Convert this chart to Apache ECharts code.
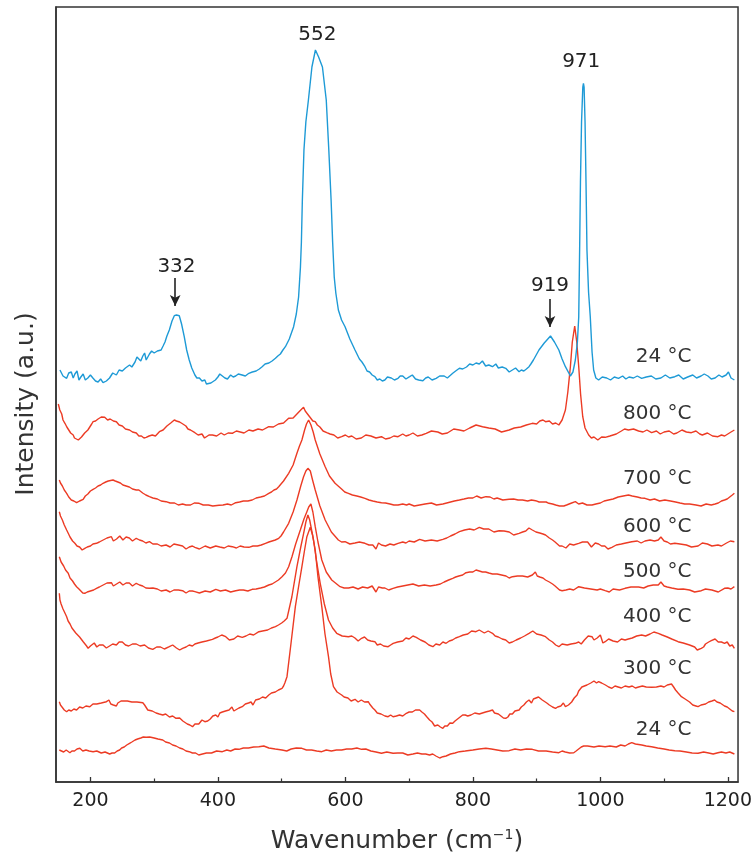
<!DOCTYPE html>
<html>
<head>
<meta charset="utf-8">
<script src="https://cdn.jsdelivr.net/npm/echarts@6/dist/echarts.min.js"></script>
<style>
  html, body { margin: 0; padding: 0; background: #fff; overflow: hidden; }
  #chart { width: 755px; height: 862px; display: block; }
</style>
</head>
<body>
<div id="chart"></div>
<script>
// Raman spectra, [wavenumber, intensity (a.u., stacked offset)]
const blue24 = [[152.2,412],[157,406],[162.7,403.7],[166,409],[170,410],[173,404],[175.6,408],[179,411],[182,402],[185,405],[188.6,408],[192,402],[196,404],[200,407],[204.2,403.7],[208,401],[212,400],[216,403],[219.8,399.3],[225,401],[230,404],[235,409],[240.7,407],[245,412],[250,411],[255,414],[261.4,417],[265,415],[270,420],[273,425],[276,424],[279,421],[282.2,426],[285,429],[287.5,422],[290,424],[292.6,428],[296,431],[300,429],[305,431],[310.9,432],[314,436],[317,440],[320,446],[323.8,452],[328,461],[331.6,466.3],[335,467],[339.4,466.3],[343,458],[347.2,445.3],[351,432],[355,422],[359,414],[363.9,407],[367,404],[371,404],[375,401],[379.5,402],[382,398],[385,400],[389,399],[392,399.3],[396,402],[400,405],[403,408],[407,406],[411,404],[415,403],[420,407],[424,405],[427.9,406],[432,408],[438,407],[443,406],[448.6,408.7],[454,410],[460,411],[465,413],[469.4,415.3],[474,418],[480,419],[485,421],[490.3,423.7],[494,426],[498,428],[502,432],[505.9,435.3],[512,443],[518.8,455.3],[523,468],[526.6,485],[529.5,515],[531,540],[532.5,582],[535,632],[538,660],[542,682],[547.5,715],[553,732],[558,725],[564,715],[570,682],[574,632],[577.6,582],[580,540],[582.5,505],[585,489],[589,472],[594,462],[599.5,455.3],[607,443],[615.1,432],[622,423],[626,420],[630.7,415.3],[634,411],[638,410],[642,407],[646.3,405.3],[650,402],[654,403],[658,401],[661.9,402],[666,405],[672,404],[677,402],[682.6,403.7],[686,406],[690,406],[695,403],[700.8,405.3],[705,407],[710,403],[715,402],[721.6,401.3],[726,404],[730,405],[736,402],[742.4,403.7],[748,406],[755,406],[760,404],[768.4,408.7],[773,411],[778.9,413.7],[784,413],[790,415],[795,418],[800,417],[805,419],[810.1,418],[815,421],[820,416],[825,417],[830.8,415.3],[836,418],[840,414],[846,415],[851.6,413.7],[857,410],[862,412],[867,414],[872.5,410.3],[876,412],[880,411],[884,413],[888.1,415.3],[891,418],[895,422],[903.7,432],[912,439],[921.8,446],[928,440],[934.9,432],[940,423],[945.2,415.3],[953,406],[957,410],[960.8,422],[964,440],[966.1,465],[967.5,532],[968.8,600],[970.5,660],[972.5,695],[973.5,698.7],[974.5,695],[976,660],[977.5,600],[979,532],[981.5,490],[984.2,465.3],[987,430],[989.5,412],[993,404],[997.3,402],[1003,405],[1010,404],[1016,402],[1022,405],[1028.5,403.7],[1035,406],[1040,403],[1045,405],[1052,404],[1058,406],[1064.8,403.7],[1072,405],[1080,406],[1087,403],[1095,404],[1102,407],[1109,404],[1116.8,405.3],[1123,407],[1130,403],[1137,405],[1145,407],[1151,404],[1158,406],[1163,408],[1168.8,406],[1174,403],[1180,404],[1186,407],[1191,405],[1197.3,407],[1201,410],[1205,404],[1210.3,402]];

const red800 = [[149.6,378],[152,372],[155,368],[157,362],[160,358.7],[163,355],[166,352],[169,349],[173,347],[175,344],[178,345],[181,342],[183.4,343.7],[186,345],[188,346],[191,349],[193.9,348.7],[196,352],[199,355],[202,358],[204.2,360.3],[208,361],[212,363],[217,365],[222.4,364.7],[227,362],[231,363],[236,361],[240.7,360.3],[245,357],[250,356],[255,353],[261.4,352],[266,350],[272,349],[276,346],[280,346],[284,344],[287.5,344.7],[292,346],[297,347],[302,346],[308.2,350.3],[314,352],[320,356],[326,359],[331.6,362],[335,361],[340,360],[345,358],[349.8,356],[353,353],[357,352],[360,350],[363.9,349.3],[369,347],[375,348],[379,344],[382,345],[386,347],[391.4,347],[398,346],[405,349],[410,347],[416,349],[422.6,348.7],[429,351],[435,350],[441,349],[448.6,352],[455,351],[463,353],[470,352],[479.8,355.3],[487,355],[495,358],[503,359],[511,363.7],[518,364],[524,368],[530,372],[534.4,374.7],[537,371],[540,369],[543,366],[546,364],[549,361],[552.7,360.3],[556,357],[560,355],[565,351],[570.8,349.3],[576,348],[582,347],[588,344],[594.2,345.3],[600,347],[605,345],[610,346],[617,343],[625,344],[632,347],[640,346],[648,344],[656.6,345.3],[663,343],[670,344],[676,346],[682.6,345.3],[690,348],[695,346],[700,347],[706,349],[713,346],[720,347],[726.8,348.7],[735,351],[745,350],[752,348],[760,349],[770,353],[778.9,352],[786,351],[795,354],[805,357],[815.2,355.3],[825,354],[835,353],[845,350],[856.9,352],[865,354],[875,355],[884,357],[893.3,358.7],[900,358],[905,361],[910,362],[914,360.3],[920,361],[925,358],[930,359],[934.9,357],[937,359],[940,362],[945.2,372],[949,390],[953,415.3],[956,440],[959.8,456],[963,440],[966.1,415.3],[969,388],[972.4,365.3],[976,354],[981.7,347],[986,344],[990,345],[996,342],[1002,345],[1007.6,344.7],[1015,346],[1025,348],[1033,351],[1038,353],[1044.1,352],[1052,353],[1060,351],[1067,350],[1073,352],[1080.4,349.3],[1088,351],[1094,348],[1100,350],[1108,351],[1115,348],[1120,349],[1128,352],[1135,350],[1142.8,349.3],[1150,351],[1156,348],[1160,347],[1168,349],[1176,346],[1184.5,345.3],[1190,347],[1195,346],[1200,348],[1205,350],[1210.3,352]];

const red700 = [[151.2,302],[153,299],[156,296],[159,292],[162.7,288.7],[166,285],[170,282],[174,281],[178.3,279.3],[181,281],[183,281],[186,282],[188.6,282.7],[192,286],[196,288],[200,291],[204.2,292.7],[208,294],[212,296],[216,297],[219.8,298.7],[224,300],[228,301],[231,302],[235.4,302],[239,301],[243,300],[247,299],[251,297],[256,296],[261,295],[266,293],[271.9,292],[276,292],[282,289],[287,287],[292.6,285.3],[298,284],[305,283],[311,281],[318.7,280.3],[325,279],[332,279],[338,277],[344.6,278],[350,277],[357,277],[363,279],[370.6,278.7],[377,277],[385,277],[392,276],[401.8,276.7],[408,277],[415,278],[421,277],[427.9,279.3],[434,280],[440,281],[447,281],[453.8,282],[460,284],[467,285],[473,286],[479.8,288.7],[484,290],[488,292],[492,293],[495.4,295.3],[499,298],[503,301],[511,308.7],[518,317],[524,328.7],[528,336],[531.8,342],[536,352],[539,358],[542.3,362],[546,357],[549.5,350],[552.7,342],[560,328],[568.3,315.3],[575,306],[583.8,298.7],[594,293],[599,290],[604.7,288.7],[611,287],[618,286],[624,285],[630.7,283.7],[637,282],[643,281],[650,280],[656.6,279.3],[663,279],[670,278],[676,277],[682.6,277],[690,278],[696,277],[700,278],[708,276],[716.5,277],[725,278],[735,279],[743,277],[752.9,278],[759,279],[765,280],[771,281],[778.9,282],[786,283],[793,284],[800,284],[806,286],[813,284],[820.4,285.3],[827,285],[833,283],[838,284],[847,282],[856.9,282.7],[864,283],[871,282],[878,282],[886,281],[892,282],[898.4,281.3],[904,280],[910,280],[915,280],[919.3,278.7],[925,278],[930,277],[936,276],[942.7,276],[947,277],[950,278],[955,279],[960.8,280.3],[966,278],[972,279],[979,277],[986.9,277],[993,278],[1000,279],[1006,281],[1012.9,282],[1020,283],[1028,285],[1036,286],[1044.1,287],[1050,286],[1058,285],[1064,284],[1070,283.7],[1078,282],[1085,283],[1093,281],[1101.2,282],[1110,281],[1118,280],[1125,279],[1132.4,278],[1140,278],[1150,277],[1158,276],[1166,278],[1174,277],[1180,278],[1185,279],[1190,281],[1194.8,282],[1199,283],[1203,285],[1207,287],[1210.3,288.7]];

const red600 = [[151.2,270.3],[153,266],[156,262],[159,257],[162.7,252],[165,249],[168,245],[172,241],[175.6,238.7],[179,236],[183,235],[187,232],[191.2,233.7],[195,235],[200,236],[204,238],[209.5,238.7],[214,240],[220,242],[226,244],[232.9,245.3],[236,241],[241,243],[246,246],[251,242],[256,245],[261,244],[266,241],[271.9,243.7],[277,242],[282,241],[287,239],[292.6,240.3],[298,238],[305,238],[311,236],[318.7,237],[325,235],[331,238],[338,237],[344.6,236],[350,233],[355,235],[360,236],[363.9,234.7],[371,233],[380,236],[388,234],[396.7,236],[403,235],[410,234],[416,236],[422.6,235.3],[429,234],[435,236],[441,235],[448.6,234.7],[455,236],[462,236],[468,237],[474.7,238.7],[480,240],[485,241],[490,242],[495.4,243.7],[499,246],[503,250],[511,258.7],[518,270],[524,282],[530,296],[534.4,305.3],[538,311],[541.2,313.7],[545,311],[548.5,302],[552.7,292],[560,276],[568.3,262],[578,250],[589,242],[594,240],[599.5,240.3],[607,238],[615,239],[622,240],[630.7,238.7],[637,237],[643,237],[648,233],[652,239],[656.6,237],[663,236],[670,238],[676,237],[682.6,238.7],[690,240],[695,239],[700,241],[708,240],[716.5,242.7],[725,241],[735,242],[744,241],[752.9,242.7],[759,244],[765,246],[772,248],[778.9,250.3],[787,252],[795,253],[802,252],[810.1,254.7],[817,253],[825,253],[833,250],[841.3,251.3],[849,251],[857,250],[864,247],[872.5,248.7],[878,250],[883,251],[888,254],[893.3,252],[899,250],[905,249],[910,248],[914,247],[920,244],[925,242],[929,240],[932,238],[936,236],[940,236],[946,234],[952,238],[958,237],[966.1,238.7],[972,240],[980,240],[986,235],[992,239],[997.3,238],[1002,236],[1007,236],[1012,233],[1018.1,234.7],[1025,237],[1033,238],[1040,239],[1049.3,240.3],[1058,241],[1064,239],[1070,241],[1078,242],[1085,241],[1090.9,242],[1095,245],[1100,241],[1105,240],[1110,238],[1116.8,238.7],[1125,238],[1135,237],[1143,235],[1153.3,236],[1160,239],[1168,238],[1175,236],[1184.5,237],[1190,236],[1198,239],[1204,241],[1210.3,240.3]];

const red500 = [[151.2,225.3],[154,220],[158,216],[161,212],[165.2,208.7],[168,204],[172,201],[175,198],[178.3,195.3],[182,193],[185,191],[188,189],[191.2,188.7],[195,190],[200,191],[205,192],[209.5,193.7],[214,195],[220,197],[226,199],[232.9,199.3],[236,196],[241,198],[246,200],[251,197],[256,199],[261,199],[266,196],[271.9,198.7],[277,197],[282,196],[287,194],[292.6,193.7],[298,194],[305,193],[311,191],[318.7,192],[325,190],[331,192],[338,192],[344.6,191.3],[350,189],[355,191],[360,191],[363.9,190.3],[371,189],[380,191],[388,190],[396.7,192.7],[404,191],[412,192],[420,190],[427.9,191.3],[434,192],[440,192],[447,191],[453.8,192.7],[460,193],[467,194],[473,195],[479.8,197],[485,198],[490,200],[495,202],[500.6,205.3],[506,209],[511,215.3],[516.2,225.3],[522,238],[529.3,252],[535,263],[539.6,270.3],[542.5,275],[545.9,278],[549,270],[552.7,255.3],[557,240],[563,222],[570,210],[578.6,202],[591.7,195.3],[598,194],[605,194],[612,195],[620,193],[627,195],[635,194],[642,196],[648,190],[652,195],[658,194],[662,194],[668,192],[674.8,193.7],[682,195],[690,196],[698,197],[706,198],[715,196],[724,197],[733,196],[742.4,197],[749,198],[755,200],[762,202],[768.4,203.7],[773,205],[778,206],[784,207],[789.2,209.3],[795,210],[800,210],[805,212],[810.1,211],[815,210],[820,210],[825,209],[830.8,208],[838,208],[845,207],[852,206],[857,204],[862,205.3],[870,206],[878,206],[886,205],[893.3,207],[898,210],[901,206],[905,205],[910,204],[914,202],[920,200],[925,198],[929,196],[932,194],[936,192],[940,191.3],[946,192],[952,193],[958,192],[966.1,195.3],[975,194],[985,193],[995,192],[1000,193],[1007.6,191.3],[1014,190],[1020,193],[1030,192],[1038.8,193.7],[1048,195],[1060,195],[1068,194],[1075,196],[1083,197],[1090.9,197],[1095,200],[1100,196],[1105,195],[1112,194],[1121.9,192.7],[1130,193],[1140,192],[1148,190],[1158.4,191.3],[1165,193],[1175,192],[1185,190],[1194.8,193.7],[1200,194],[1205,193],[1210.3,195.3]];

const red400 = [[151.2,188.7],[152.2,182],[154,178],[157,173],[160,169],[162.7,165.3],[165,161],[168,158],[171,154],[173,152],[177,149],[180,147],[183,145],[186.1,143.7],[189,140],[191,139],[194,136],[196.4,133.7],[200,136],[203,136],[206,139],[210,135],[214,137],[219.8,137],[225,134],[230,136],[235,138],[240.7,137],[245,140],[250,140],[255,137],[260,136],[266,138],[271.9,138],[278,136],[285,137],[291,134],[297.8,132.7],[304,135],[310,135],[316,133],[323.8,135.3],[329,137],[335,134],[340,132],[344.6,133.7],[350,135],[355,137],[360,136],[363.9,138],[369,139],[375,140],[382,141],[391.4,142.7],[396,144],[400,145],[406,147],[412.3,145.3],[418,142],[425,143],[431,146],[438.2,144.7],[444,146],[450,148],[456,147],[464.3,150.3],[470,151],[478,152],[484,154],[490.3,155.3],[495,157],[500,159],[504,161],[508.4,163.7],[516,185],[524,215.3],[530,235],[534.5,248.7],[538,260],[541.2,267],[544,262],[547,252],[550,242],[555,220],[560.5,198.7],[567,178],[573.5,162],[580,154],[586.4,148.7],[595,146],[604.7,145.3],[610,146],[615,144],[620,141],[625.4,143.7],[630,145],[635,142],[640,141],[646.3,140.3],[650,137],[655,138],[660,136],[667.1,135.3],[671,137],[675,138.7],[682,140],[690,141],[695,144],[700,143],[706,146],[711.2,144.7],[718,142],[725,140],[731,137],[737.3,135.3],[742,138],[748,137],[753,140],[758,138.7],[763,141],[768,142],[773,144],[778.9,145.3],[785,147],[792,148],[798,151],[804.8,150.3],[810,152],[818,149],[824,151],[830.8,148.7],[835,146],[840,145],[846,143],[851.6,142],[857,139],[862,140],[868,142],[875,144],[881,146],[888.1,148.7],[894,151],[900,148],[907,147],[914,145.3],[920,142],[925,140],[930,137],[934.9,135.3],[940,138],[948,137],[954,138],[960.8,138.7],[966,140],[970,138],[975,142],[981,146],[986.9,145.3],[990,142],[995,144],[1000,147],[1004,139],[1007.6,140.3],[1013,143],[1020,141],[1027,140],[1033,143],[1038.8,142],[1044,143],[1050,144],[1057,146],[1064.8,147],[1071,146],[1078,148],[1084,150],[1090.9,148.7],[1097,147],[1105,145],[1112,143],[1121.9,140.3],[1130,139],[1140,137],[1148,135],[1152,132],[1158.4,133.7],[1162,135],[1165,138],[1170,140],[1174,141.3],[1180,143],[1185,140],[1190,140],[1194.8,138.7],[1199,140],[1203,136],[1207,137],[1210.3,133.7]];

const red300 = [[151.2,80.3],[153,77],[156,75],[159,72],[162.7,70.3],[166,72],[170,71],[174,73],[178.3,72],[183,75],[188,74],[193,76],[199,75.3],[204,78],[210,78],[217,79],[225.1,80.3],[229,82],[232,78],[236,77],[240.7,76],[243,79],[246,78],[248,81],[251,80.3],[258,81],[265,80],[273,80],[282.2,79.3],[285,77],[287,75],[290,72],[292.6,70.3],[297,71],[303,69],[308,68],[313.5,67],[318,68],[324,65],[329,66],[334.3,63.7],[340,64],[345,61],[348,63],[352,58],[356,57],[360.2,55.3],[364,58],[367,56],[370,58],[375,62],[379.5,60.3],[384,61],[388,63],[392,66],[396.7,67],[400,65],[403,69],[407,70],[412,71],[417.5,72],[422,75],[425,71],[428,73],[433,74],[438.2,75.3],[443,78],[448,79],[452,80],[455,77],[459.1,82],[465,83],[470,85],[475,84],[479.8,87],[484,89],[490,90],[495,92],[500.6,93.7],[503,96],[505,99],[508.4,105.3],[514,135],[521.5,175.3],[527,197],[531.8,215.3],[536,232],[539.6,245.3],[544.9,254.7],[548.5,247],[552.7,232],[557,205],[563,175.3],[568,148],[573.5,125.3],[577,108],[581.3,95.3],[587,90],[594.2,87],[598,85],[604,84],[609,81],[615.1,82.7],[620,80],[625,82],[630,80],[635.9,80.3],[638,78],[641,76],[643,74],[646.3,72],[650,69],[656,68],[662,66],[667.1,65.3],[671,67],[674.8,65.3],[680,66],[685,67],[690,66],[695.6,68.7],[700,70],[705,70],[710,72],[716.5,72],[720,70],[724,68],[728,65],[732.1,62],[736,60],[740,56],[745,57],[749,55],[752.9,53.7],[756,56],[760,56],[764,59],[768.4,58.7],[772,61],[776,63],[780,65],[784,67],[788,67],[792,66],[797,67],[803,69],[810.1,68],[815,69],[820,70],[826,71],[830.8,72],[834,69],[837,71],[840,68],[844,66],[848,64],[851.6,63.7],[855,65],[858,68],[862,68],[866,71],[869,69],[872.5,72],[876,75],[880,77],[884,80],[888.1,82],[892,79],[895,83],[898,83],[903,85],[908.9,82],[912,80],[916,79],[920,77],[925,75],[929.7,73.7],[933,75],[938,76],[942,79],[945.2,75.3],[950,77],[955,80],[959,84],[963.5,87],[966,91],[968,92],[971,95],[973.9,96],[979,97],[985,99],[990,101],[994,99],[997.3,100.3],[1002,99],[1008,97],[1013,95],[1018.1,93.7],[1023,96],[1028,95],[1033,94],[1038.8,96],[1045,95],[1050,96],[1055,94],[1060,95],[1066,96],[1072,95],[1080.4,94.7],[1088,95],[1095,96],[1100,95],[1105,97],[1111.6,98],[1115,95],[1118,92],[1122,89],[1127.2,85.3],[1133,83],[1140,80],[1145,77],[1150,76],[1153.3,75.3],[1158,77],[1165,78],[1170,80],[1175,81],[1179.3,82],[1183,80],[1188,79],[1191,77],[1194.8,76],[1199,75],[1203,73],[1207,71],[1210.3,70.3]];

const red24 = [[151.2,32],[154,30],[158,30],[162,32],[167.8,29.3],[171,31],[175,31],[179,33],[183.4,33.7],[188,31],[193,32],[198,31],[204.2,30.3],[210,31],[217,29],[223,30],[230.2,28],[234,29],[238,29],[242,31],[245.8,32],[249,34],[253,35],[257,37],[261.4,38.7],[265,40],[270,42],[274,43],[279,44],[283,45],[287.5,44.7],[293,45],[300,44],[306,43],[313.5,42],[318,40],[324,39],[329,37],[334.3,36],[340,34],[345,33],[350,31],[355,30.3],[360,29],[365,29],[370,27],[375.8,28],[382,29],[390,29],[398,31],[407,30.3],[414,32],[420,31],[427,33],[433,32.7],[440,34],[448,34],[456,35],[464.3,35.3],[472,36],[480,34],[490,33],[500.6,32],[508,31],[515,33],[523,34],[531.8,33.7],[539,32],[547,32],[555,31],[563,30.3],[570,32],[578,31],[586,32],[594.2,32],[602,33],[610,33],[618,34],[625.4,32.7],[632,33],[640,31],[648,30],[656.6,28.7],[665,30],[674.8,28.7],[682,29],[690,29],[698,27],[706,28],[713,29],[720,28],[726,28],[732.1,27],[737,28],[742,26],[748,24],[752.9,25.3],[758,26],[765,28],[772,29],[778.9,30.3],[788,31],[800,32],[810,33],[820.4,33.7],[829,33],[838,32],[847,31],[856.9,31.3],[866,33],[875,32],[884,33],[893.3,32.7],[903,31],[915,31],[925,30],[934.9,29.3],[940,31],[945,30],[952,29],[958.3,29.3],[962,31],[966,33],[970,35],[973.9,36],[980,36],[990,35],[998,36],[1007.6,35.3],[1015,36],[1025,35],[1032,37],[1038.8,36],[1044,38],[1049.3,39.3],[1055,38],[1065,37],[1072,36],[1080.4,35.3],[1090,34],[1100,33],[1108,32],[1116.8,31.3],[1125,31],[1135,30],[1144,29],[1153.3,28.7],[1162,30],[1170,29],[1177,28],[1184.5,29.3],[1190,30],[1197,29],[1203,30],[1210.3,28]];

// curve labels: text, y position (a.u.)
const curveLabels = ['24 °C', '800 °C', '700 °C', '600 °C', '500 °C', '400 °C', '300 °C', '24 °C'];
const curveLabelY = [425, 368, 303, 255, 210, 165, 113, 52];
const labelX = 1143;

// peak annotations: text and its position; arrows [x, top, bottom]
const peakText = ['552', '971', '332', '919'];
const peakPos = [[556, 747], [970, 720], [335, 515], [921, 496]];
const arrows = [[333, 504, 476], [921, 483, 455]];

const xTicks = [200, 400, 600, 800, 1000, 1200];
const xMinor = [300, 500, 700, 900, 1100];

const FONT = 'DejaVu Sans';
const BLUE = '#1e9ad6';
const RED = '#ec3b24';

const chart = echarts.init(document.getElementById('chart'));

const spectra = [blue24, red800, red700, red600, red500, red400, red300, red24];

const series = spectra.map((d, i) => ({
  type: 'line',
  data: d,
  showSymbol: false,
  symbol: 'none',
  silent: true,
  z: i === 0 ? 3 : 2,
  lineStyle: { color: i === 0 ? BLUE : RED, width: 1.4 },
  markPoint: {
    symbol: 'circle',
    symbolSize: 0,
    silent: true,
    data: [{
      coord: [labelX, curveLabelY[i]],
      label: {
        show: true, position: 'inside', align: 'right', verticalAlign: 'middle',
        formatter: curveLabels[i], color: '#333', fontSize: 20, fontFamily: FONT
      }
    }]
  }
}));

// peak labels and arrows ride on an empty series
series.push({
  type: 'line',
  data: [],
  silent: true,
  markPoint: {
    symbol: 'circle',
    symbolSize: 0,
    data: peakText.map((t, i) => ({
      coord: peakPos[i],
      label: {
        show: true, position: 'inside', align: 'center', verticalAlign: 'middle',
        formatter: t, color: '#222', fontSize: 20, fontFamily: FONT
      }
    }))
  },
  markLine: {
    silent: true,
    symbol: ['none', 'arrow'],
    symbolSize: [8, 11],
    label: { show: false },
    lineStyle: { color: '#222', width: 1.6, type: 'solid' },
    data: arrows.map(a => [{ coord: [a[0], a[1]] }, { coord: [a[0], a[2]] }])
  }
});

chart.setOption({
  animation: false,
  backgroundColor: '#fff',
  grid: {
    left: 56, right: 13, top: 7, bottom: 80,
    show: true, borderColor: '#333', borderWidth: 1.5, backgroundColor: 'transparent'
  },
  xAxis: [{
    type: 'value',
    min: 146,
    max: 1216,
    name: 'Wavenumber (cm{sup|−1})',
    nameLocation: 'middle',
    nameGap: 46,
    nameTextStyle: {
      fontFamily: FONT, fontSize: 25, color: '#333',
      rich: { sup: { fontFamily: FONT, fontSize: 14, color: '#333', padding: [0, 0, 12, 0] } }
    },
    axisLine: { show: true, lineStyle: { color: '#333', width: 1.5 } },
    axisTick: { show: true, inside: true, length: 5, customValues: xTicks, lineStyle: { color: '#333', width: 1.3 } },
    axisLabel: {
      customValues: xTicks, margin: 10, fontFamily: FONT, fontSize: 19, color: '#222',
      formatter: v => String(v)
    },
    splitLine: { show: false }
  }, {
    type: 'value',
    min: 146,
    max: 1216,
    position: 'bottom',
    axisLine: { show: false },
    axisTick: { show: true, inside: true, length: 3.5, customValues: xMinor, lineStyle: { color: '#333', width: 1.2 } },
    axisLabel: { show: false },
    splitLine: { show: false }
  }],
  yAxis: {
    type: 'value',
    min: 0,
    max: 775,
    name: 'Intensity (a.u.)',
    nameLocation: 'middle',
    nameRotate: 90,
    nameGap: 17,
    nameTextStyle: { fontFamily: FONT, fontSize: 25, color: '#333', padding: [0, 19, 0, 0] },
    axisLine: { show: true, lineStyle: { color: '#333', width: 1.5 } },
    axisTick: { show: false },
    axisLabel: { show: false },
    splitLine: { show: false }
  },
  series: series
});

window.addEventListener('resize', () => chart.resize());
</script>
</body>
</html>
